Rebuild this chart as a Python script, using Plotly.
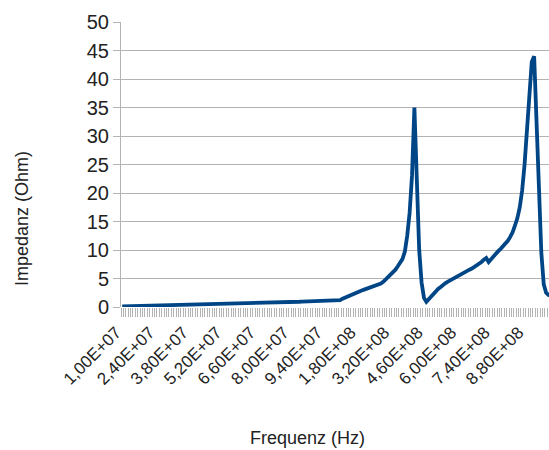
import plotly.graph_objects as go

# Categories: measurement frequencies (Hz)
freq_low = [1e7 + k * 1e6 for k in range(91)]      # 1.0E7 .. 1.0E8
freq_high = [1.1e8 + k * 1e7 for k in range(67)]    # 1.1E8 .. 7.7E8
freq_top = [7.8e8 + k * 1e7 for k in range(22)]     # 7.8E8 .. 9.9E8
freq_hz = freq_low + freq_high + freq_top

# Impedance (Ohm)
z_low = [
    0.11, 0.12, 0.13, 0.14, 0.15, 0.17, 0.18, 0.19, 0.20, 0.21,
    0.22, 0.23, 0.24, 0.25, 0.26, 0.28, 0.29, 0.30, 0.31, 0.32,
    0.33, 0.34, 0.35, 0.36, 0.37, 0.39, 0.40, 0.41, 0.42, 0.43,
    0.44, 0.45, 0.46, 0.47, 0.48, 0.50, 0.51, 0.52, 0.53, 0.54,
    0.55, 0.56, 0.57, 0.58, 0.59, 0.61, 0.62, 0.63, 0.64, 0.65,
    0.66, 0.67, 0.68, 0.69, 0.70, 0.72, 0.73, 0.74, 0.75, 0.76,
    0.77, 0.78, 0.79, 0.80, 0.81, 0.83, 0.84, 0.85, 0.86, 0.87,
    0.88, 0.89, 0.90, 0.91, 0.92, 0.94, 0.95, 0.96, 0.97, 0.98,
    0.99, 1.00, 1.01, 1.02, 1.03, 1.05, 1.06, 1.07, 1.08, 1.09,
    1.10,
]
z_high = [
    1.2, 1.45, 1.65, 1.85, 2.05, 2.25, 2.45, 2.6, 2.75, 2.9,
    3.05, 3.2, 3.35, 3.5, 3.7, 3.8, 3.9, 4.1, 4.4, 4.8,
    5.2, 5.6, 6.0, 6.5, 7.1, 7.7, 8.4, 9.7, 12.5, 16.5,
    23.0, 35.0, 20.0, 10.0, 4.3, 1.6, 0.9, 1.4, 1.9, 2.4,
    2.8, 3.2, 3.5, 3.9, 4.2, 4.45, 4.7, 4.95, 5.2, 5.4,
    5.6, 5.85, 6.1, 6.35, 6.55, 6.75, 7.0, 7.3, 7.6, 7.9,
    8.3, 8.6, 7.9, 8.4, 9.0, 9.5, 9.8,
]
z_top = [
    10.2, 10.6, 11.0, 11.6, 12.3, 13.1, 14.3, 15.6, 17.5, 20.5,
    25.0, 31.0, 38.0, 43.0, 44.0, 34.0, 21.0, 9.5, 4.0, 2.5,
    2.1, 2.0,
]
impedance = z_low + z_high + z_top

tick_freqs = [1e7, 2.4e7, 3.8e7, 5.2e7, 6.6e7, 8.0e7, 9.4e7,
              1.8e8, 3.2e8, 4.6e8, 6.0e8, 7.4e8, 8.8e8]
tick_labels = ["1,00E+07", "2,40E+07", "3,80E+07", "5,20E+07", "6,60E+07",
               "8,00E+07", "9,40E+07", "1,80E+08", "3,20E+08", "4,60E+08",
               "6,00E+08", "7,40E+08", "8,80E+08"]

idx = list(range(len(freq_hz)))
tick_idx = [min(idx, key=lambda i: abs(freq_hz[i] - f)) for f in tick_freqs]

GRID = "#b3b3b3"
FONT = "Liberation Sans, Arial, sans-serif"

W, H = 549, 450
l, r, t, b = 121, 0, 22, 143
pw, ph = W - l - r, H - t - b

def px_to_paper(px, py):
    return (px - l) / pw, 1 - (py - t) / ph

yt_x, yt_y = px_to_paper(22, 219)
xt_x, xt_y = px_to_paper(307, 438)

fig = go.Figure()
fig.add_trace(go.Scatter(
    x=idx, y=impedance, mode="lines",
    line=dict(color="#004586", width=3.8),
    hoverinfo="skip", showlegend=False,
))

fig.update_layout(
    width=W, height=H,
    margin=dict(l=l, r=r, t=t, b=b, autoexpand=False),
    paper_bgcolor="white", plot_bgcolor="white",
    font=dict(family=FONT, color="#222222"),
    xaxis=dict(
        range=[-0.5, 178.2], automargin=False,
        tickmode="array", tickvals=tick_idx, ticktext=tick_labels,
        tickangle=-45, tickfont=dict(size=17, family=FONT),
        ticks="outside", ticklen=9, tickcolor="rgba(0,0,0,0)",
        ticklabelstandoff=-1, ticklabelshift=-6,
        minor=dict(ticks="outside", ticklen=9, tick0=-0.5, dtick=1,
                   tickcolor=GRID, tickwidth=1, showgrid=False),
        showgrid=False, zeroline=False, showline=False,
    ),
    yaxis=dict(
        range=[0, 50], tickmode="linear", tick0=0, dtick=5, automargin=False,
        tickfont=dict(size=20, family=FONT),
        ticks="outside", ticklen=7, tickcolor=GRID,
        showgrid=True, gridcolor=GRID, gridwidth=1,
        showline=True, linecolor=GRID, linewidth=1,
        zeroline=False,
    ),
    annotations=[
        dict(text="Impedanz (Ohm)", x=yt_x, y=yt_y, xref="paper", yref="paper",
             xanchor="center", yanchor="middle",
             showarrow=False, textangle=-90, font=dict(size=18, family=FONT)),
        dict(text="Frequenz (Hz)", x=xt_x, y=xt_y, xref="paper", yref="paper",
             xanchor="center", yanchor="middle",
             showarrow=False, font=dict(size=18, family=FONT)),
    ],
)

fig.write_html(
    "out.html",
    config={"displayModeBar": False},
    post_script=(
        "document.body.style.margin='0';"
        "document.body.style.overflow='hidden';"
        "document.documentElement.style.overflow='hidden';"
    ),
)
